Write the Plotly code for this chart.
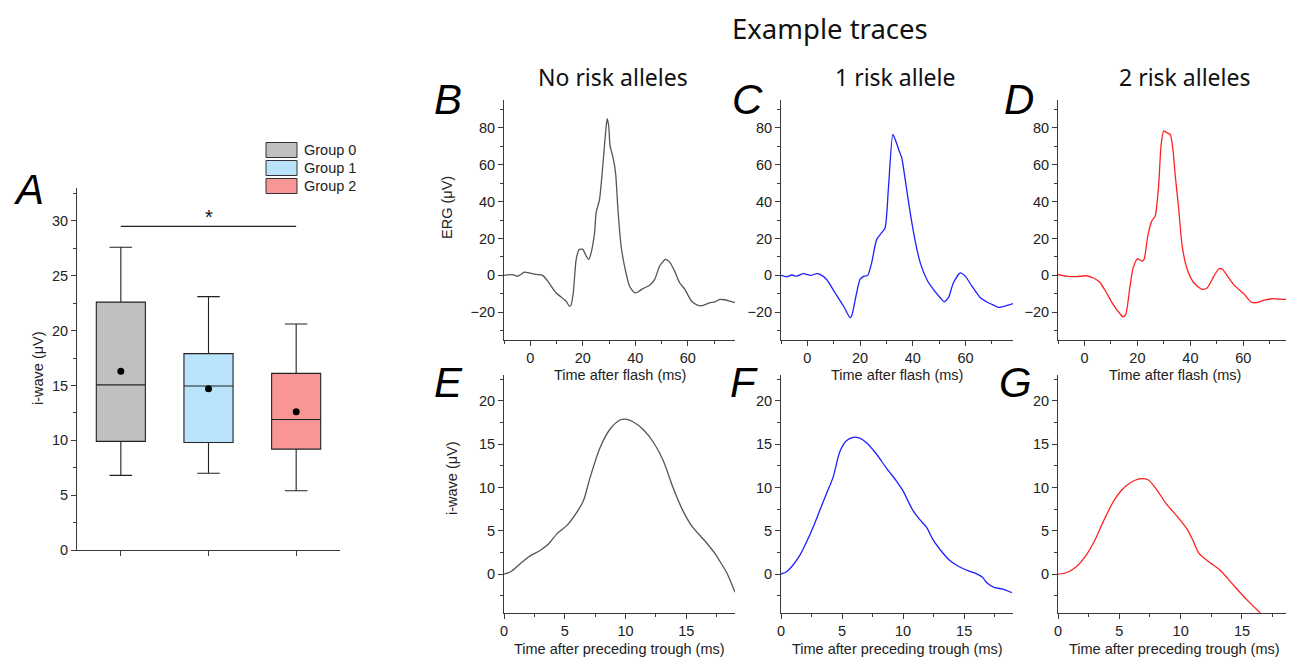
import plotly.graph_objects as go

# The page body has an 8px margin; the figure is sized to fill the rest of the 1294x660 window.
OFF = 8
W, H = 1294 - OFF, 660 - OFF

# ---------------- Panel A data ----------------
groups = ["Group 0", "Group 1", "Group 2"]
group_pos = [1, 2, 3]
q1 = [9.9, 9.8, 9.2]
median = [15.05, 14.95, 11.9]
q3 = [22.6, 17.9, 16.1]
lower = [6.8, 7.0, 5.4]
upper = [27.6, 23.1, 20.6]
means = [16.3, 14.7, 12.6]
box_colors = ["#c0c0c0", "#b8e3fa", "#f89696"]
sig_y = 29.5

# ---------------- ERG traces (B, C, D) ----------------
t_b = [-10, -6.8, -4.8, -3.6, -2.3, -0.4, 2.2, 4.7, 6.6, 9.8, 13.6, 14.9, 15.5, 16.4, 17.5, 18.7, 20.0,
       21.3, 22.3, 23.2, 24.5, 25.1, 26.4, 27.4, 28.7, 29.3, 29.9, 30.4, 31.4, 32.5, 33.4, 34.6, 35.9,
       37.8, 39.7, 41.0, 42.9, 45.5, 47.4, 49.3, 51.5, 53.1, 55.0, 56.9, 58.9, 61.4, 63.9, 65.9, 68.4,
       70.3, 72.2, 74.0, 76.0, 78.0]
v_b = [0, 0.4, -0.5, 0.5, 1.8, 1.3, 0.5, 0, -3, -9.4, -13.9, -16.6, -16.2, -9.4, 8.7, 14.1, 14.1,
       10.5, 8.7, 12.3, 23.1, 34, 41.2, 55.6, 77.3, 84.9, 80.9, 70.1, 64.7, 55.6, 35.8, 15.9, 5.1,
       -5.8, -9.4, -9, -7.2, -5.4, -2.2, 5.1, 8.7, 7.2, 2.3, -4, -7.6, -13.9, -16.3, -16.3, -14.8,
       -14.4, -13.0, -13.2, -14.0, -14.8]

t_c = [-10, -7.8, -5.9, -4.0, -1.5, 1.3, 3.5, 4.8, 7.3, 10.5, 13.7, 16.2, 16.8, 18.7, 20.0, 21.5,
       22.9, 24.4, 26.3, 28.2, 29.5, 30.8, 32.4, 33.3, 34.6, 35.8, 37.1, 39.0, 40.9, 42.8, 45.3, 47.8,
       50.4, 51.9, 53.5, 55.4, 58.0, 59.9, 62.4, 65.6, 68.1, 70.6, 72.5, 75.1, 78.0]
v_c = [0, -0.7, 0.2, -0.4, 0.9, 0, 0.9, 0.5, -2.2, -9.4, -16.6, -22.9, -22, -9.4, -2.2, -0.4,
       0, 6.9, 19.5, 23.1, 25.8, 48.4, 76.4, 73.7, 68.3, 63.7, 52, 34, 18.6, 6.9, -2.2, -7.6,
       -12.1, -14.3, -12.1, -4, 1.4, -0.4, -5.8, -12.1, -14.4, -16.1, -17.3, -16.6, -15.3]

t_d = [-10, -7.0, -3.2, 0.6, 3.2, 5.7, 8.3, 10.8, 13.3, 14.6, 15.6, 17.2, 18.4, 20.0, 21.6, 22.5,
       23.9, 25.4, 26.7, 28.0, 28.9, 29.9, 31.1, 32.4, 33.4, 34.3, 35.6, 36.9, 38.8, 41.3, 44.5, 46.4,
       48.9, 50.8, 52.1, 54.0, 56.6, 60.4, 62.9, 64.8, 68.0, 71.2, 75.6, 76.9, 78.0]
v_d = [0.5, -0.4, -0.7, -0.2, -1.3, -3.6, -9.4, -15.7, -20.6, -22.4, -21.1, -5.8, 4.2, 9, 7.8, 8.7,
       21.3, 29.4, 32.1, 48.4, 70.1, 78.2, 77.3, 76.4, 68.3, 53.8, 35.8, 15.9, 3.3, -4, -7.6, -6.7,
       -0.4, 3.6, 3.3, -0.4, -5.4, -10.3, -14.4, -14.8, -13.4, -12.6, -13, -12.6, -14.2]

# ---------------- i-wave traces (E, F, G) ----------------
t_e = [0, 0.55, 1.36, 2.05, 3.0, 3.68, 4.36, 5.18, 6.0, 6.54, 7.09, 7.9, 8.7, 9.54, 10.0, 10.6,
       11.45, 12.3, 13.1, 13.9, 14.7, 15.5, 16.6, 17.45, 17.7, 18.3, 19.0]
v_e = [0, 0.27, 1.23, 2.0, 2.76, 3.5, 4.67, 5.63, 7.16, 8.5, 11.2, 14.6, 16.7, 17.8, 17.9, 17.6,
       16.7, 15.2, 13.1, 10.0, 7.36, 5.44, 3.7, 2.18, 1.6, 0.2, -2.1]

t_f = [0, 0.46, 0.87, 1.55, 2.09, 2.64, 3.18, 3.72, 4.27, 4.81, 5.35, 5.9, 6.44, 6.98, 7.8, 8.6,
       9.43, 9.97, 10.8, 11.3, 11.9, 12.4, 12.96, 13.8, 14.6, 15.4, 15.95, 16.5, 16.9, 17.45, 18.1, 18.9]
v_f = [0, 0.27, 0.84, 2.18, 3.7, 5.44, 7.36, 9.27, 11.2, 14.1, 15.4, 15.8, 15.7, 15.2, 13.9, 12.3,
       10.8, 9.66, 7.36, 6.4, 5.44, 4.1, 2.95, 1.6, 0.84, 0.34, 0.08, -0.38, -1.07, -1.53, -1.72, -2.15]

t_g = [0, 0.68, 1.49, 2.3, 3.0, 3.67, 4.48, 5.16, 5.84, 6.66, 7.34, 8.0, 8.83, 9.65, 10.5, 11.0,
       11.5, 12.4, 13.2, 14.3, 15.35, 16.5]
v_g = [0, 0.15, 0.84, 2.18, 3.9, 6.0, 8.3, 9.66, 10.5, 11.0, 10.9, 9.85, 8.12, 6.78, 5.25, 3.9,
       2.38, 1.3, 0.46, -1.26, -2.9, -4.5]

trace_colors = ["#555555", "#2020ff", "#ff2020"]
col_titles = ["No risk alleles", "1 risk allele", "2 risk alleles"]
panel_letters_top = ["B", "C", "D"]
panel_letters_bot = ["E", "F", "G"]

AX = "#3a3a3a"
FONT = "Liberation Sans, Arial, sans-serif"
TITLE_FONT = "Noto Sans, Open Sans, sans-serif"

def px_x(p):
    return (p - OFF) / W

def px_y(p):
    return 1 - (p - OFF) / H

fig = go.Figure()

# Panel A boxes
for i in range(3):
    fig.add_trace(go.Box(
        x=[group_pos[i]], q1=[q1[i]], median=[median[i]], q3=[q3[i]],
        lowerfence=[lower[i]], upperfence=[upper[i]],
        width=0.56, whiskerwidth=0.46, fillcolor=box_colors[i],
        line=dict(color="#222222", width=1.1), name=groups[i],
        showlegend=False, xaxis="x", yaxis="y", hoverinfo="skip", boxpoints=False))
fig.add_trace(go.Scatter(x=group_pos, y=means, mode="markers",
                         marker=dict(color="black", size=7), showlegend=False,
                         xaxis="x", yaxis="y"))

# ERG and i-wave traces
erg = [(t_b, v_b), (t_c, v_c), (t_d, v_d)]
iw = [(t_e, v_e), (t_f, v_f), (t_g, v_g)]
for k in range(3):
    fig.add_trace(go.Scatter(x=erg[k][0], y=erg[k][1], mode="lines",
                             line=dict(color=trace_colors[k], width=1.3, shape="spline", smoothing=0.6),
                             showlegend=False, xaxis=f"x{k+2}", yaxis=f"y{k+2}"))
    fig.add_trace(go.Scatter(x=iw[k][0], y=iw[k][1], mode="lines",
                             line=dict(color=trace_colors[k], width=1.3, shape="spline", smoothing=0.8),
                             showlegend=False, xaxis=f"x{k+5}", yaxis=f"y{k+5}"))

axis_common = dict(showline=True, linecolor=AX, linewidth=1, ticks="outside", ticklen=5,
                   tickcolor=AX, tickwidth=1, showgrid=False, zeroline=False, automargin=False,
                   tickfont=dict(family=FONT, size=14.5, color="#222"))

layout = dict(template="none", width=W, height=H, margin=dict(l=0, r=0, t=0, b=0, pad=0),
              paper_bgcolor="white", plot_bgcolor="white", boxmode="overlay",
              showlegend=False)

# Panel A axes
layout["xaxis"] = dict(axis_common, domain=[px_x(77), px_x(340)], range=[0.5, 3.5],
                       tickvals=group_pos, showticklabels=False, anchor="y")
layout["yaxis"] = dict(axis_common, domain=[px_y(550), px_y(188)], range=[0, 33],
                       tickvals=[0, 5, 10, 15, 20, 25, 30], anchor="x",
                       minor=dict(ticks="outside", ticklen=3, dtick=2.5, tick0=0, tickcolor=AX))

x_dom = [(504, 735), (781, 1013), (1058, 1291)]
for k in range(3):
    xd = [px_x(x_dom[k][0]), px_x(x_dom[k][1])]
    layout[f"xaxis{k+2}"] = dict(axis_common, domain=xd, range=[-10, 78], anchor=f"y{k+2}",
                                 tickvals=[0, 20, 40, 60],
                                 minor=dict(ticks="outside", ticklen=3, dtick=10, tick0=0, tickcolor=AX))
    layout[f"yaxis{k+2}"] = dict(axis_common, domain=[px_y(340), px_y(100)], range=[-35, 95],
                                 anchor=f"x{k+2}", tickvals=[-20, 0, 20, 40, 60, 80],
                                 minor=dict(ticks="outside", ticklen=3, dtick=10, tick0=0, tickcolor=AX))
    layout[f"xaxis{k+5}"] = dict(axis_common, domain=xd, range=[0, 19], anchor=f"y{k+5}",
                                 tickvals=[0, 5, 10, 15],
                                 minor=dict(ticks="outside", ticklen=3, dtick=2.5, tick0=0, tickcolor=AX))
    layout[f"yaxis{k+5}"] = dict(axis_common, domain=[px_y(613), px_y(375)], range=[-4.5, 23],
                                 anchor=f"x{k+5}", tickvals=[0, 5, 10, 15, 20],
                                 minor=dict(ticks="outside", ticklen=3, dtick=2.5, tick0=0, tickcolor=AX))

fig.update_layout(**layout)

ann = []
shapes = []

def txt(x, y, text, size=14.5, family=FONT, xanchor="center", yanchor="middle", angle=0, color="#222",
        pad=1):
    ann.append(dict(x=px_x(x), y=px_y(y), xref="paper", yref="paper", text=text, showarrow=False,
                    xanchor=xanchor, yanchor=yanchor, textangle=angle, borderpad=pad,
                    font=dict(family=family, size=size, color=color)))

# titles
txt(830, 9, "Example traces", size=27.5, family=TITLE_FONT, color="#111", yanchor="top", pad=0)
title_x = [613, 895, 1185]
for k in range(3):
    txt(title_x[k], 77, col_titles[k], size=23, family=TITLE_FONT, color="#111")

# panel letters
letter_size = 42
txt(11, 190, "<i>A</i>", size=letter_size, xanchor="left", color="black")
top_lx = [432, 730, 1002]
bot_lx = [432, 728, 997]
for k in range(3):
    txt(top_lx[k], 100, f"<i>{panel_letters_top[k]}</i>", size=letter_size, xanchor="left", color="black")
    txt(bot_lx[k], 382, f"<i>{panel_letters_bot[k]}</i>", size=letter_size, xanchor="left", color="black")

# axis titles
txt(38, 368, "i-wave (μV)", angle=-90)
txt(447, 208, "ERG (μV)", angle=-90)
txt(452, 478, "i-wave (μV)", angle=-90)
for k in range(3):
    cx = (x_dom[k][0] + x_dom[k][1]) / 2
    txt(cx, 375, "Time after flash (ms)")
    txt(cx, 649, "Time after preceding trough (ms)")

# significance bar
shapes.append(dict(type="line", xref="x", yref="y", x0=group_pos[0], x1=group_pos[2],
                   y0=sig_y, y1=sig_y, line=dict(color="#222", width=1.1)))
ann.append(dict(x=group_pos[1], y=sig_y, xref="x", yref="y", text="*", showarrow=False,
                yanchor="bottom", yshift=-4, font=dict(family=FONT, size=20, color="#111")))

# legend
leg_y = [150, 168, 186]
for i in range(3):
    shapes.append(dict(type="rect", xref="paper", yref="paper",
                       x0=px_x(266), x1=px_x(297), y0=px_y(leg_y[i] + 7.5), y1=px_y(leg_y[i] - 7.5),
                       fillcolor=box_colors[i], line=dict(color="#333", width=1)))
    txt(302, leg_y[i], groups[i], xanchor="left")

fig.update_layout(annotations=ann, shapes=shapes)
fig.write_html("out.html")
